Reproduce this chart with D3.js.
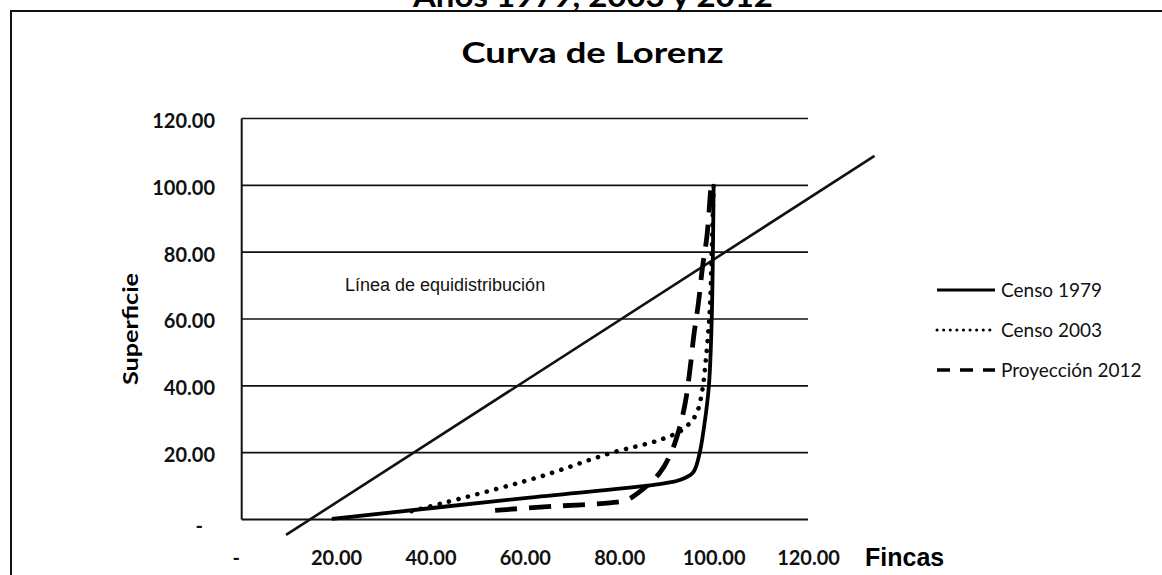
<!DOCTYPE html>
<html>
<head>
<meta charset="utf-8">
<script src="https://cdn.jsdelivr.net/npm/d3@7"></script>
<style>
  html, body { margin: 0; padding: 0; background: #fff; overflow: hidden; }
  svg { display: block; }
  .tick-label { font-family: Lato, "Open Sans", sans-serif; font-weight: 700; font-size: 20px; fill: #111; }
  .legend-label { font-family: Lato, "Open Sans", sans-serif; font-size: 19px; fill: #111; }
</style>
</head>
<body>
<div id="chart"></div>
<script>
// ---- data ----
const seriesNames = ['Censo 1979', 'Censo 2003', 'Proyección 2012'];

// [% fincas acumulado, % superficie acumulada]
const censo1979 = [[19.1, 0.2], [60, 6.4], [88, 10.5], [92.8, 11.8], [95.6, 14], [96.9, 19],
  [98, 28], [99, 40], [99.6, 60], [100, 100]];
const censo2003 = [[36, 2.5], [62, 12.3], [78, 19.8], [89, 24], [93.5, 27], [96.3, 31.5],
  [97.6, 38.7], [98.3, 47], [98.9, 56.6], [99.3, 66], [99.6, 80], [100, 100]];
const proy2012 = [[53.7, 2.7], [64, 3.8], [72, 4.4], [78, 5], [81.5, 5.8], [84.5, 8.5],
  [88.6, 14], [91, 20], [92.7, 27], [94, 35], [95, 45], [95.8, 55], [96.8, 65],
  [97.6, 75], [98.6, 85], [99.4, 99.5]];

// the diagonal was drawn by hand over the chart, so it overshoots the plot
const equiLine = [[9.4, -4.6], [134.1, 108.8]];

const xTicks = [0, 20, 40, 60, 80, 100, 120];
const yTicks = [0, 20, 40, 60, 80, 100, 120];

const W = 1162, H = 575;

const svg = d3.select('#chart').append('svg')
  .attr('width', W).attr('height', H);

// frame of the pasted chart (right and bottom edges are off the page)
svg.append('rect')
  .attr('x', 11).attr('y', 11).attr('width', 1300).attr('height', 700)
  .attr('fill', 'none').attr('stroke', '#111').attr('stroke-width', 2);

// heading above the frame, cut by the top edge as in the scan
svg.append('text')
  .attr('x', 593).attr('y', 6.5).attr('text-anchor', 'middle')
  .attr('font-family', 'Lato, sans-serif').attr('font-weight', 700).attr('font-size', 30)
  .attr('textLength', 360).attr('lengthAdjust', 'spacingAndGlyphs')
  .text('Años 1979, 2003 y 2012');

svg.append('text')
  .attr('x', 592.5).attr('y', 63).attr('text-anchor', 'middle')
  .attr('font-family', 'Lato, sans-serif').attr('font-weight', 700).attr('font-size', 28.5)
  .attr('textLength', 262).attr('lengthAdjust', 'spacingAndGlyphs')
  .text('Curva de Lorenz');

// ---- scales ----
const x = d3.scaleLinear().domain([0, 120]).range([241.7, 808]);
const y = d3.scaleLinear().domain([0, 120]).range([519.5, 118.5]);

// gridlines
svg.append('g').selectAll('line')
  .data(yTicks)
  .join('line')
  .attr('x1', x(0)).attr('x2', x(120))
  .attr('y1', d => y(d)).attr('y2', d => y(d))
  .attr('stroke', '#111')
  .attr('stroke-width', d => d === 0 ? 2.2 : 1.6);

// y axis line
svg.append('line')
  .attr('x1', x(0)).attr('x2', x(0)).attr('y1', y(120)).attr('y2', y(0))
  .attr('stroke', '#111').attr('stroke-width', 2);

const fmt = d => d === 0 ? '-' : d.toFixed(2);

// y tick labels
const yAxis = svg.append('g')
  .attr('transform', 'translate(215,2.5)')
  .call(d3.axisLeft(y).tickValues(yTicks).tickFormat(fmt).tickSize(0).tickPadding(0));
yAxis.select('.domain').remove();
yAxis.selectAll('text')
  .attr('class', 'tick-label').attr('fill', null)
  .attr('dx', d => d === 0 ? -12 : 0)
  .attr('dy', d => d === 0 ? '0.5em' : '0.32em');

// x tick labels
const xAxis = svg.append('g')
  .attr('transform', 'translate(0,565)')
  .call(d3.axisBottom(x).tickValues(xTicks).tickFormat(fmt).tickSize(0).tickPadding(0));
xAxis.select('.domain').remove();
xAxis.selectAll('text')
  .attr('class', 'tick-label').attr('fill', null)
  .attr('dy', 0)
  .attr('dx', d => d === 0 ? -6 : 0);

// axis titles
svg.append('text')
  .attr('transform', 'translate(138,329) rotate(-90)')
  .attr('text-anchor', 'middle')
  .attr('font-family', 'Lato, sans-serif').attr('font-weight', 700).attr('font-size', 20)
  .attr('textLength', 112).attr('lengthAdjust', 'spacingAndGlyphs')
  .text('Superficie');

svg.append('text')
  .attr('x', 865).attr('y', 566)
  .attr('font-family', '"Liberation Sans", Arial, sans-serif').attr('font-weight', 700).attr('font-size', 25)
  .text('Fincas');

// ---- lines ----
const line = d3.line()
  .x(d => x(d[0])).y(d => y(d[1]))
  .curve(d3.curveCatmullRom.alpha(0.5));

svg.append('path')
  .datum(equiLine)
  .attr('d', d3.line().x(d => x(d[0])).y(d => y(d[1])))
  .attr('fill', 'none').attr('stroke', '#111').attr('stroke-width', 2.6);

svg.append('text')
  .attr('x', 345).attr('y', 291)
  .attr('font-family', '"Liberation Sans", Arial, sans-serif').attr('font-size', 18)
  .attr('fill', '#111')
  .text('Línea de equidistribución');

const styles = [
  { data: censo1979, width: 3.8, dash: null, cap: 'butt' },
  { data: censo2003, width: 4.6, dash: '0.1,9.6', cap: 'round' },
  { data: proy2012, width: 4.8, dash: '22,12', cap: 'butt' }
];

styles.forEach(s => {
  svg.append('path')
    .datum(s.data)
    .attr('d', line)
    .attr('fill', 'none')
    .attr('stroke', '#000')
    .attr('stroke-width', s.width)
    .attr('stroke-linecap', s.cap)
    .attr('stroke-linejoin', 'round')
    .attr('stroke-dasharray', s.dash);
});

// ---- legend ----
const legendY = d3.scalePoint().domain(seriesNames).range([290, 370]);
const legend = svg.append('g').selectAll('g')
  .data(seriesNames)
  .join('g')
  .attr('transform', d => `translate(0,${legendY(d)})`);

const legendStyles = [
  { width: 3.2, dash: null, cap: 'butt', x2: 995 },
  { width: 3, dash: '0.1,6.5', cap: 'round', x2: 990 },
  { width: 3.4, dash: '13,10', cap: 'butt', x2: 995 }
];

legend.append('line')
  .attr('x1', 937).attr('x2', (d, i) => legendStyles[i].x2)
  .attr('y1', 0).attr('y2', 0)
  .attr('stroke', '#000')
  .attr('stroke-width', (d, i) => legendStyles[i].width)
  .attr('stroke-linecap', (d, i) => legendStyles[i].cap)
  .attr('stroke-dasharray', (d, i) => legendStyles[i].dash);

legend.append('text')
  .attr('class', 'legend-label')
  .attr('x', 1001).attr('dy', '0.35em')
  .text(d => d);
</script>
</body>
</html>
